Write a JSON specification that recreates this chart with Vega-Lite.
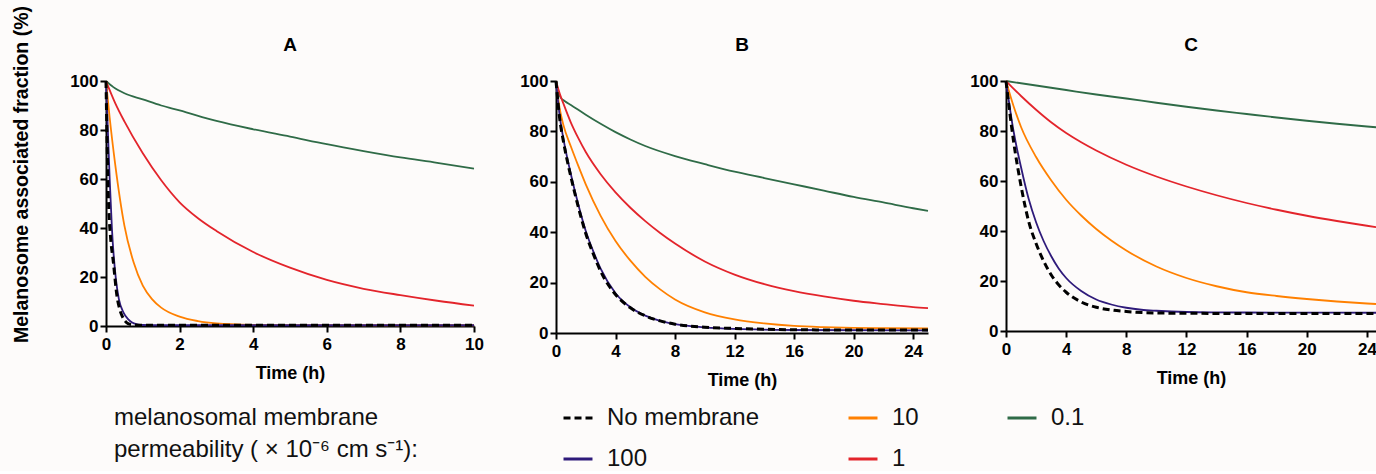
{
  "$schema": "https://vega.github.io/schema/vega-lite/v6.json",
  "background": "#fdfbfa",
  "padding": {"left": 11, "top": 5, "right": 0, "bottom": 0},
  "data": {"values": [
    {"panel":"A","series":"0.1","t":0,"v":100},{"panel":"A","series":"0.1","t":0.2,"v":97.5},{"panel":"A","series":"0.1","t":0.5,"v":95},{"panel":"A","series":"0.1","t":1,"v":92.5},{"panel":"A","series":"0.1","t":1.5,"v":90},{"panel":"A","series":"0.1","t":2,"v":88},{"panel":"A","series":"0.1","t":3,"v":83.7},{"panel":"A","series":"0.1","t":4,"v":80.3},{"panel":"A","series":"0.1","t":5,"v":77.3},{"panel":"A","series":"0.1","t":6,"v":74.2},{"panel":"A","series":"0.1","t":7,"v":71.4},{"panel":"A","series":"0.1","t":8,"v":68.8},{"panel":"A","series":"0.1","t":9,"v":66.6},{"panel":"A","series":"0.1","t":10,"v":64.2},
    {"panel":"A","series":"1","t":0,"v":100},{"panel":"A","series":"1","t":0.25,"v":91},{"panel":"A","series":"1","t":0.5,"v":83.5},{"panel":"A","series":"1","t":1,"v":70.5},{"panel":"A","series":"1","t":1.5,"v":59.5},{"panel":"A","series":"1","t":2,"v":50.5},{"panel":"A","series":"1","t":2.5,"v":44},{"panel":"A","series":"1","t":3,"v":38.8},{"panel":"A","series":"1","t":4,"v":30.2},{"panel":"A","series":"1","t":5,"v":23.8},{"panel":"A","series":"1","t":6,"v":18.8},{"panel":"A","series":"1","t":7,"v":15.2},{"panel":"A","series":"1","t":8,"v":12.6},{"panel":"A","series":"1","t":9,"v":10.3},{"panel":"A","series":"1","t":10,"v":8.3},
    {"panel":"A","series":"10","t":0,"v":100},{"panel":"A","series":"10","t":0.1,"v":85},{"panel":"A","series":"10","t":0.25,"v":66},{"panel":"A","series":"10","t":0.5,"v":41},{"panel":"A","series":"10","t":0.75,"v":26},{"panel":"A","series":"10","t":1,"v":16.5},{"panel":"A","series":"10","t":1.25,"v":11},{"panel":"A","series":"10","t":1.5,"v":7.5},{"panel":"A","series":"10","t":2,"v":3.8},{"panel":"A","series":"10","t":2.5,"v":2},{"panel":"A","series":"10","t":3,"v":1.1},{"panel":"A","series":"10","t":4,"v":0.5},{"panel":"A","series":"10","t":5,"v":0.35},{"panel":"A","series":"10","t":10,"v":0.3},
    {"panel":"A","series":"100","t":0,"v":100},{"panel":"A","series":"100","t":0.05,"v":80},{"panel":"A","series":"100","t":0.1,"v":60},{"panel":"A","series":"100","t":0.16,"v":40},{"panel":"A","series":"100","t":0.27,"v":19},{"panel":"A","series":"100","t":0.35,"v":11},{"panel":"A","series":"100","t":0.48,"v":5.4},{"panel":"A","series":"100","t":0.6,"v":2.8},{"panel":"A","series":"100","t":0.71,"v":1.4},{"panel":"A","series":"100","t":0.85,"v":0.7},{"panel":"A","series":"100","t":1,"v":0.4},{"panel":"A","series":"100","t":1.5,"v":0.3},{"panel":"A","series":"100","t":10,"v":0.3},
    {"panel":"A","series":"No membrane","t":0,"v":100},{"panel":"A","series":"No membrane","t":0.03,"v":75},{"panel":"A","series":"No membrane","t":0.07,"v":50},{"panel":"A","series":"No membrane","t":0.12,"v":37},{"panel":"A","series":"No membrane","t":0.2,"v":26},{"panel":"A","series":"No membrane","t":0.3,"v":12},{"panel":"A","series":"No membrane","t":0.37,"v":7},{"panel":"A","series":"No membrane","t":0.44,"v":4},{"panel":"A","series":"No membrane","t":0.52,"v":2},{"panel":"A","series":"No membrane","t":0.6,"v":1},{"panel":"A","series":"No membrane","t":0.75,"v":0.5},{"panel":"A","series":"No membrane","t":1,"v":0.3},{"panel":"A","series":"No membrane","t":10,"v":0.3},

    {"panel":"B","series":"0.1","t":0,"v":100},{"panel":"B","series":"0.1","t":0.1,"v":97},{"panel":"B","series":"0.1","t":0.3,"v":93.5},{"panel":"B","series":"0.1","t":0.6,"v":92},{"panel":"B","series":"0.1","t":1,"v":90.5},{"panel":"B","series":"0.1","t":2,"v":86.6},{"panel":"B","series":"0.1","t":3,"v":83},{"panel":"B","series":"0.1","t":4,"v":79.7},{"panel":"B","series":"0.1","t":5,"v":76.8},{"panel":"B","series":"0.1","t":6,"v":74.2},{"panel":"B","series":"0.1","t":8,"v":70.2},{"panel":"B","series":"0.1","t":10,"v":67},{"panel":"B","series":"0.1","t":12,"v":64},{"panel":"B","series":"0.1","t":14,"v":61.5},{"panel":"B","series":"0.1","t":16,"v":59},{"panel":"B","series":"0.1","t":18,"v":56.5},{"panel":"B","series":"0.1","t":20,"v":54},{"panel":"B","series":"0.1","t":22,"v":51.8},{"panel":"B","series":"0.1","t":24,"v":49.5},{"panel":"B","series":"0.1","t":25,"v":48.5},
    {"panel":"B","series":"1","t":0,"v":100},{"panel":"B","series":"1","t":0.25,"v":95},{"panel":"B","series":"1","t":0.5,"v":91},{"panel":"B","series":"1","t":1,"v":83.5},{"panel":"B","series":"1","t":1.5,"v":77.3},{"panel":"B","series":"1","t":2,"v":71.8},{"panel":"B","series":"1","t":3,"v":63},{"panel":"B","series":"1","t":4,"v":55.8},{"panel":"B","series":"1","t":5,"v":49.7},{"panel":"B","series":"1","t":6,"v":44.4},{"panel":"B","series":"1","t":7,"v":39.7},{"panel":"B","series":"1","t":8,"v":35.5},{"panel":"B","series":"1","t":10,"v":28.4},{"panel":"B","series":"1","t":12,"v":23.2},{"panel":"B","series":"1","t":14,"v":19.4},{"panel":"B","series":"1","t":16,"v":16.6},{"panel":"B","series":"1","t":18,"v":14.5},{"panel":"B","series":"1","t":20,"v":12.8},{"panel":"B","series":"1","t":22,"v":11.5},{"panel":"B","series":"1","t":24,"v":10.3},{"panel":"B","series":"1","t":25,"v":9.9},
    {"panel":"B","series":"10","t":0,"v":100},{"panel":"B","series":"10","t":0.25,"v":89},{"panel":"B","series":"10","t":0.5,"v":82.5},{"panel":"B","series":"10","t":1,"v":74},{"panel":"B","series":"10","t":1.5,"v":66.3},{"panel":"B","series":"10","t":2,"v":59},{"panel":"B","series":"10","t":3,"v":46.5},{"panel":"B","series":"10","t":4,"v":36.5},{"panel":"B","series":"10","t":5,"v":28.7},{"panel":"B","series":"10","t":6,"v":22.3},{"panel":"B","series":"10","t":7,"v":17.3},{"panel":"B","series":"10","t":8,"v":13.3},{"panel":"B","series":"10","t":10,"v":8.2},{"panel":"B","series":"10","t":12,"v":5.4},{"panel":"B","series":"10","t":14,"v":3.8},{"panel":"B","series":"10","t":16,"v":2.8},{"panel":"B","series":"10","t":18,"v":2.3},{"panel":"B","series":"10","t":20,"v":2},{"panel":"B","series":"10","t":22,"v":1.9},{"panel":"B","series":"10","t":25,"v":1.8},
    {"panel":"B","series":"100","t":0,"v":100},{"panel":"B","series":"100","t":0.25,"v":86},{"panel":"B","series":"100","t":0.5,"v":77},{"panel":"B","series":"100","t":1,"v":63},{"panel":"B","series":"100","t":1.5,"v":51},{"panel":"B","series":"100","t":2,"v":40.5},{"panel":"B","series":"100","t":2.5,"v":32.5},{"panel":"B","series":"100","t":3,"v":25.5},{"panel":"B","series":"100","t":4,"v":15.8},{"panel":"B","series":"100","t":5,"v":10.2},{"panel":"B","series":"100","t":6,"v":6.9},{"panel":"B","series":"100","t":7,"v":4.8},{"panel":"B","series":"100","t":8,"v":3.5},{"panel":"B","series":"100","t":10,"v":2.2},{"panel":"B","series":"100","t":12,"v":1.6},{"panel":"B","series":"100","t":16,"v":1.2},{"panel":"B","series":"100","t":25,"v":1.0},
    {"panel":"B","series":"No membrane","t":0,"v":100},{"panel":"B","series":"No membrane","t":0.25,"v":85},{"panel":"B","series":"No membrane","t":0.5,"v":76},{"panel":"B","series":"No membrane","t":1,"v":62},{"panel":"B","series":"No membrane","t":1.5,"v":50},{"panel":"B","series":"No membrane","t":2,"v":39.5},{"panel":"B","series":"No membrane","t":2.5,"v":31.5},{"panel":"B","series":"No membrane","t":3,"v":24.5},{"panel":"B","series":"No membrane","t":4,"v":15.3},{"panel":"B","series":"No membrane","t":5,"v":10},{"panel":"B","series":"No membrane","t":6,"v":6.8},{"panel":"B","series":"No membrane","t":7,"v":4.8},{"panel":"B","series":"No membrane","t":8,"v":3.5},{"panel":"B","series":"No membrane","t":10,"v":2.3},{"panel":"B","series":"No membrane","t":12,"v":1.8},{"panel":"B","series":"No membrane","t":14,"v":1.5},{"panel":"B","series":"No membrane","t":16,"v":1.3},{"panel":"B","series":"No membrane","t":20,"v":1.2},{"panel":"B","series":"No membrane","t":25,"v":1.2},

    {"panel":"C","series":"0.1","t":0,"v":100},{"panel":"C","series":"0.1","t":2,"v":98.2},{"panel":"C","series":"0.1","t":4,"v":96.4},{"panel":"C","series":"0.1","t":6,"v":94.6},{"panel":"C","series":"0.1","t":8,"v":93},{"panel":"C","series":"0.1","t":10,"v":91.3},{"panel":"C","series":"0.1","t":12,"v":89.7},{"panel":"C","series":"0.1","t":14,"v":88.2},{"panel":"C","series":"0.1","t":16,"v":86.8},{"panel":"C","series":"0.1","t":18,"v":85.4},{"panel":"C","series":"0.1","t":20,"v":84.1},{"panel":"C","series":"0.1","t":22,"v":82.9},{"panel":"C","series":"0.1","t":24,"v":81.8},{"panel":"C","series":"0.1","t":24.6,"v":81.5},
    {"panel":"C","series":"1","t":0,"v":100},{"panel":"C","series":"1","t":1,"v":94},{"panel":"C","series":"1","t":2,"v":88.5},{"panel":"C","series":"1","t":3,"v":83.5},{"panel":"C","series":"1","t":4,"v":79.2},{"panel":"C","series":"1","t":5,"v":75.5},{"panel":"C","series":"1","t":6,"v":72.2},{"panel":"C","series":"1","t":8,"v":66.5},{"panel":"C","series":"1","t":10,"v":61.8},{"panel":"C","series":"1","t":12,"v":57.8},{"panel":"C","series":"1","t":14,"v":54.3},{"panel":"C","series":"1","t":16,"v":51.2},{"panel":"C","series":"1","t":18,"v":48.5},{"panel":"C","series":"1","t":20,"v":46.1},{"panel":"C","series":"1","t":22,"v":44},{"panel":"C","series":"1","t":24,"v":42.1},{"panel":"C","series":"1","t":24.6,"v":41.5},
    {"panel":"C","series":"10","t":0,"v":100},{"panel":"C","series":"10","t":0.5,"v":90},{"panel":"C","series":"10","t":1,"v":81.6},{"panel":"C","series":"10","t":2,"v":69.6},{"panel":"C","series":"10","t":3,"v":60.3},{"panel":"C","series":"10","t":4,"v":52.5},{"panel":"C","series":"10","t":5,"v":46.2},{"panel":"C","series":"10","t":6,"v":40.8},{"panel":"C","series":"10","t":7,"v":36.2},{"panel":"C","series":"10","t":8,"v":32.2},{"panel":"C","series":"10","t":10,"v":25.8},{"panel":"C","series":"10","t":12,"v":21.2},{"panel":"C","series":"10","t":14,"v":17.9},{"panel":"C","series":"10","t":16,"v":15.5},{"panel":"C","series":"10","t":18,"v":14},{"panel":"C","series":"10","t":20,"v":12.8},{"panel":"C","series":"10","t":22,"v":11.8},{"panel":"C","series":"10","t":24,"v":11},{"panel":"C","series":"10","t":24.6,"v":10.8},
    {"panel":"C","series":"100","t":0,"v":100},{"panel":"C","series":"100","t":0.5,"v":80},{"panel":"C","series":"100","t":1,"v":65.5},{"panel":"C","series":"100","t":1.5,"v":53},{"panel":"C","series":"100","t":2,"v":43.5},{"panel":"C","series":"100","t":2.5,"v":36},{"panel":"C","series":"100","t":3,"v":30},{"panel":"C","series":"100","t":3.5,"v":25},{"panel":"C","series":"100","t":4,"v":21.2},{"panel":"C","series":"100","t":5,"v":16},{"panel":"C","series":"100","t":6,"v":12.6},{"panel":"C","series":"100","t":7,"v":10.6},{"panel":"C","series":"100","t":8,"v":9.3},{"panel":"C","series":"100","t":9,"v":8.5},{"panel":"C","series":"100","t":10,"v":8.1},{"panel":"C","series":"100","t":12,"v":7.6},{"panel":"C","series":"100","t":14,"v":7.45},{"panel":"C","series":"100","t":16,"v":7.4},{"panel":"C","series":"100","t":20,"v":7.35},{"panel":"C","series":"100","t":24.6,"v":7.3},
    {"panel":"C","series":"No membrane","t":0,"v":100},{"panel":"C","series":"No membrane","t":0.5,"v":76},{"panel":"C","series":"No membrane","t":1,"v":58},{"panel":"C","series":"No membrane","t":1.5,"v":44},{"panel":"C","series":"No membrane","t":2,"v":35},{"panel":"C","series":"No membrane","t":2.5,"v":28},{"panel":"C","series":"No membrane","t":3,"v":22.5},{"panel":"C","series":"No membrane","t":3.5,"v":18.5},{"panel":"C","series":"No membrane","t":4,"v":15.5},{"panel":"C","series":"No membrane","t":5,"v":11.6},{"panel":"C","series":"No membrane","t":6,"v":9.5},{"panel":"C","series":"No membrane","t":7,"v":8.4},{"panel":"C","series":"No membrane","t":8,"v":7.8},{"panel":"C","series":"No membrane","t":10,"v":7.2},{"panel":"C","series":"No membrane","t":12,"v":7.1},{"panel":"C","series":"No membrane","t":16,"v":7.0},{"panel":"C","series":"No membrane","t":24.6,"v":7.0}
  ]},
  "spacing": 35,
  "hconcat": [
    {
      "title": {"text": "A", "offset": -50},
      "width": 368, "height": 245,
      "transform": [{"filter": "datum.panel === 'A'"}],
      "encoding": {
        "x": {"field": "t", "type": "quantitative", "scale": {"domain": [0, 10], "nice": false}, "axis": {"title": "Time (h)", "values": [0, 2, 4, 6, 8, 10]}},
        "y": {"field": "v", "type": "quantitative", "scale": {"domain": [0, 100], "nice": false}, "axis": {"title": "Melanosome associated fraction (%)", "values": [0, 20, 40, 60, 80, 100], "titleY": 93, "titlePadding": 38, "titleFontSize": 19.5}},
        "color": {"field": "series", "type": "nominal", "scale": {"domain": ["No membrane", "100", "10", "1", "0.1"], "range": ["#000000", "#2e1a7a", "#ff8000", "#e3242b", "#2f6b47"]},
          "legend": {"orient": "none", "legendX": 8, "legendY": 321, "title": ["melanosomal membrane", "permeability ( × 10⁻⁶ cm s⁻¹):"], "columns": 3,
            "encode": {"symbols": {"update": {"strokeDash": {"signal": "datum.value === 'No membrane' ? [7, 4] : [1, 0]"}}}}}}
      },
      "layer": [
        {"transform": [{"filter": "datum.series !== 'No membrane'"}], "mark": {"type": "line", "interpolate": "monotone", "strokeWidth": 1.8}},
        {"transform": [{"filter": "datum.series === 'No membrane'"}], "mark": {"type": "line", "interpolate": "monotone", "strokeWidth": 3, "strokeDash": [7, 4]}}
      ]
    },
    {
      "title": {"text": "B", "offset": 17},
      "width": 372, "height": 252,
      "transform": [{"filter": "datum.panel === 'B'"}],
      "encoding": {
        "x": {"field": "t", "type": "quantitative", "scale": {"domain": [0, 25], "nice": false}, "axis": {"title": "Time (h)", "values": [0, 4, 8, 12, 16, 20, 24]}},
        "y": {"field": "v", "type": "quantitative", "scale": {"domain": [0, 100], "nice": false}, "axis": {"title": null, "values": [0, 20, 40, 60, 80, 100]}},
        "color": {"field": "series", "type": "nominal", "scale": {"domain": ["No membrane", "100", "10", "1", "0.1"], "range": ["#000000", "#2e1a7a", "#ff8000", "#e3242b", "#2f6b47"]}}
      },
      "layer": [
        {"transform": [{"filter": "datum.series !== 'No membrane'"}], "mark": {"type": "line", "interpolate": "monotone", "strokeWidth": 1.8}},
        {"transform": [{"filter": "datum.series === 'No membrane'"}], "mark": {"type": "line", "interpolate": "monotone", "strokeWidth": 3, "strokeDash": [7, 4]}}
      ]
    },
    {
      "title": {"text": "C", "offset": 17},
      "width": 370, "height": 250,
      "transform": [{"filter": "datum.panel === 'C'"}],
      "encoding": {
        "x": {"field": "t", "type": "quantitative", "scale": {"domain": [0, 24.6], "nice": false}, "axis": {"title": "Time (h)", "values": [0, 4, 8, 12, 16, 20, 24]}},
        "y": {"field": "v", "type": "quantitative", "scale": {"domain": [0, 100], "nice": false}, "axis": {"title": null, "values": [0, 20, 40, 60, 80, 100]}},
        "color": {"field": "series", "type": "nominal", "scale": {"domain": ["No membrane", "100", "10", "1", "0.1"], "range": ["#000000", "#2e1a7a", "#ff8000", "#e3242b", "#2f6b47"]}}
      },
      "layer": [
        {"transform": [{"filter": "datum.series !== 'No membrane'"}], "mark": {"type": "line", "interpolate": "monotone", "strokeWidth": 1.8}},
        {"transform": [{"filter": "datum.series === 'No membrane'"}], "mark": {"type": "line", "interpolate": "monotone", "strokeWidth": 3, "strokeDash": [7, 4]}}
      ]
    }
  ],
  "resolve": {"scale": {"color": "shared"}},
  "config": {
    "view": {"stroke": null},
    "font": "Liberation Sans",
    "axis": {"grid": false, "domainColor": "#000000", "domainWidth": 2, "tickColor": "#000000", "tickWidth": 2, "tickSize": 6, "labelFont": "Liberation Sans", "labelFontWeight": "bold", "labelFontSize": 17, "labelColor": "#000000", "titleFont": "Liberation Sans", "titleFontWeight": "bold", "titleFontSize": 18, "titleColor": "#000000"},
    "axisX": {"titlePadding": 12, "labelPadding": 4, "labelFlush": false},
    "axisY": {"labelPadding": 2},
    "title": {"font": "Liberation Sans", "fontSize": 19, "fontWeight": "bold", "color": "#000000", "anchor": "middle", "baseline": "alphabetic"},
    "legend": {
      "gridAlign": "each", "columnPadding": 82, "rowPadding": 13,
      "titleOrient": "left", "titleAnchor": "start", "titleBaseline": "line-top", "titleFont": "Liberation Sans", "titleFontWeight": "normal", "titleFontSize": 24, "titleLineHeight": 32, "titlePadding": 144, "titleColor": "#111111", "titleLimit": 400,
      "labelFont": "Liberation Sans", "labelFontSize": 24, "labelColor": "#111111", "labelOffset": 13, "labelLimit": 300,
      "symbolType": "stroke", "symbolSize": 840, "symbolStrokeWidth": 3
    }
  }
}
